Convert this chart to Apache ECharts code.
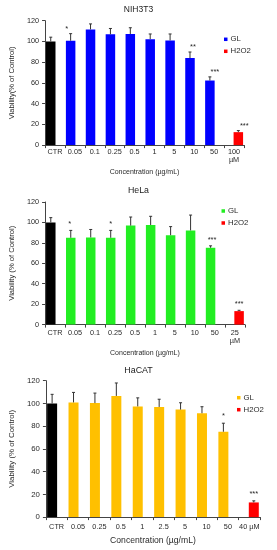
<!DOCTYPE html>
<html>
<head>
<meta charset="utf-8">
<script src="https://cdn.jsdelivr.net/npm/echarts@6/dist/echarts.min.js"></script>
<style>
html,body{margin:0;padding:0;background:#fff;width:277px;height:550px;overflow:hidden;}
.c{position:absolute;left:0;width:277px;}
</style>
</head>
<body>
<div id="c1" class="c" style="top:0;height:181px"></div>
<div id="c2" class="c" style="top:181px;height:181px"></div>
<div id="c3" class="c" style="top:362px;height:188px"></div>
<script>
// ---------- DATA ----------
const NIH_CATS = ['CTR','0.05','0.1','0.25','0.5','1','5','10','50','100\nµM'];
const NIH_GL = [100,100.7,111.6,106.9,107.2,102.2,101,83.9,62.3,null];
const NIH_GL_ERR = [4.1,6.8,5.3,5.6,6.0,5.0,6.2,5.9,3.5,null];
const NIH_H2O2 = [null,null,null,null,null,null,null,null,null,12.5];
const NIH_H2O2_ERR = [null,null,null,null,null,null,null,null,null,1.5];
const NIH_GL_SIG = ['','*','','','','','','**','***',''];
const NIH_H2O2_SIG = ['','','','','','','','','','***'];

const HELA_CATS = ['CTR','0.05','0.1','0.25','0.5','1','5','10','50','25\nµM'];
const HELA_GL = [100,85,85.3,85,96.9,97.5,87.5,92.2,75.2,null];
const HELA_GL_ERR = [4.7,7.2,7.8,7.2,8.4,8.5,8.4,15,1.9,null];
const HELA_H2O2 = [null,null,null,null,null,null,null,null,null,13.2];
const HELA_H2O2_ERR = [null,null,null,null,null,null,null,null,null,0.8];
const HELA_GL_SIG = ['','*','','*','','','','','***',''];
const HELA_H2O2_SIG = ['','','','','','','','','','***'];

const HACAT_CATS = ['CTR','0.05','0.25','0.5','1','2.5','5','10','50','40 µM'];
const HACAT_GL = [100,100.9,100.3,106.6,97.4,96.9,94.6,91.4,75.1,null];
const HACAT_GL_ERR = [8,8.8,8.8,11.4,7.5,6.8,6.0,5.7,7.5,null];
const HACAT_H2O2 = [null,null,null,null,null,null,null,null,null,12.9];
const HACAT_H2O2_ERR = [null,null,null,null,null,null,null,null,null,1.4];
const HACAT_GL_SIG = ['','','','','','','','','*',''];
const HACAT_H2O2_SIG = ['','','','','','','','','','***'];

const Y_MIN = 0, Y_MAX = 120, Y_STEP = 20;

// ---------- STYLE ----------
const FONT = "'Liberation Sans', Arial, sans-serif";
const TXT = '#2a2a2a';
const AX = '#444';

function build(el, d, s) {
  const chart = echarts.init(document.getElementById(el), null, {renderer:'canvas'});
  const barOff = s.barW * (1 + s.gap) / 2;
  function errData(vals, errs, sigs, side) {
    const out = [];
    vals.forEach((v, i) => {
      if (v === null) return;
      out.push([i, v, v + errs[i], side, sigs[i]]);
    });
    return out;
  }
  function errSeries(data, dx) {
    return {
      type: 'custom',
      silent: true,
      z: 5,
      data: data,
      encode: {x: 0, y: 1},
      renderItem: function (params, api) {
        const i = api.value(0);
        const v = api.value(1);
        const top = api.value(2);
        const side = api.value(3);
        const sig = data[params.dataIndex][4];
        const p0 = api.coord([i, v]);
        const p1 = api.coord([i, top]);
        const x = p0[0] + side * barOff;
        const kids = [
          {type:'line', shape:{x1:x, y1:p0[1], x2:x, y2:p1[1]}, style:{stroke:'#333', lineWidth:1}},
          {type:'line', shape:{x1:x-1.5, y1:p1[1], x2:x+1.5, y2:p1[1]}, style:{stroke:'#333', lineWidth:1}}
        ];
        if (sig) {
          kids.push({type:'text', style:{text:sig, x:x + (dx[i] || 0), y:p1[1] - s.starGap, align:'center', verticalAlign:'middle', fontSize:7.5, fontFamily:FONT, fill:TXT}});
        }
        return {type:'group', children:kids};
      }
    };
  }
  const glData = d.gl.map((v, i) => (i === 0 && v !== null) ? {value:v, itemStyle:{color:'#000'}} : v);
  const opt = {
    animation: false,
    textStyle: {fontFamily: FONT},
    title: {text: d.title, left: 'center', top: s.titleTop, padding:0, textStyle:{fontSize:s.titleSize, fontWeight:'normal', color:'#222', fontFamily:FONT}},
    legend: {
      orient:'vertical', left:s.legLeft, top:s.legTop, padding:0, itemWidth:3.5, itemHeight:3.5, itemGap:4,
      icon:'rect', textStyle:{fontSize:7.8, color:TXT, fontFamily:FONT, lineHeight:8, padding:[0,0,0,-2]},
      data:[{name:'GL', itemStyle:{color:s.glColor}}, {name:'H2O2', itemStyle:{color:'#ff0000'}}]
    },
    grid: {left:s.left, top:s.top, width:s.width, height:s.height, containLabel:false},
    xAxis: {
      type:'category', data:d.cats,
      axisLine:{lineStyle:{color:AX, width:1}},
      axisTick:{show:true, length:3, lineStyle:{color:AX}},
      axisLabel:{fontSize:7.3, color:TXT, margin:s.xLabMargin, lineHeight:8, interval:0, fontFamily:FONT},
      name:'Concentration (µg/mL)', nameLocation:'middle', nameGap:s.xNameGap,
      nameTextStyle:{fontSize:s.xNameSize, color:TXT, fontFamily:FONT}
    },
    yAxis: {
      type:'value', min:Y_MIN, max:Y_MAX, interval:Y_STEP,
      axisLine:{show:true, lineStyle:{color:AX, width:1}},
      axisTick:{show:true, length:3, lineStyle:{color:AX}},
      splitLine:{show:false},
      axisLabel:{fontSize:s.yLabSize, color:TXT, margin:6, fontFamily:FONT},
      name:d.yName, nameLocation:'middle', nameGap:s.yNameGap,
      nameTextStyle:{fontSize:s.yNameSize, color:TXT, fontFamily:FONT}
    },
    series: [
      {name:'GL', type:'bar', data:glData, barWidth:s.barW, barGap:(s.gap*100)+'%', itemStyle:{color:s.glColor}},
      {name:'H2O2', type:'bar', data:d.h2o2, barWidth:s.barW, itemStyle:{color:'#ff0000'}},
      errSeries(errData(d.gl, d.glErr, d.glSig, -1), s.glStarDx),
      errSeries(errData(d.h2o2, d.h2o2Err, d.h2o2Sig, 1), s.h2StarDx)
    ]
  };
  chart.setOption(opt);
}

build('c1', {
  title:'NIH3T3', yName:'Viability(% of Control)', cats:NIH_CATS,
  gl:NIH_GL, glErr:NIH_GL_ERR, glSig:NIH_GL_SIG,
  h2o2:NIH_H2O2, h2o2Err:NIH_H2O2_ERR, h2o2Sig:NIH_H2O2_SIG
}, {
  glColor:'#0000ff', left:33.3, top:20.7, width:210.7, height:128,
  titleTop:5, titleSize:8.5, legLeft:224, legTop:35.3,
  barW:9.5, gap:-0.1, starGap:5, glStarDx:[0,-4,0,0,0,0,0,3,5,0], h2StarDx:[0,0,0,0,0,0,0,0,0,6],
  xLabMargin:3, xNameGap:20, xNameSize:7, yLabSize:7.3, yNameGap:22.5, yNameSize:7.6
});

build('c2', {
  title:'HeLa', yName:'Viability (% of Control)', cats:HELA_CATS,
  gl:HELA_GL, glErr:HELA_GL_ERR, glSig:HELA_GL_SIG,
  h2o2:HELA_H2O2, h2o2Err:HELA_H2O2_ERR, h2o2Sig:HELA_H2O2_SIG
}, {
  glColor:'#22ee22', left:32.8, top:21, width:212, height:128.5,
  titleTop:5, titleSize:8.8, legLeft:221.5, legTop:26,
  barW:9.5, gap:-0.1, starGap:6, glStarDx:[0,-1,0,0,0,0,0,0,1.5,0], h2StarDx:[0,0,0,0,0,0,0,0,0,0],
  xLabMargin:4.5, xNameGap:19, xNameSize:7, yLabSize:7.3, yNameGap:22.5, yNameSize:7.6
});

build('c3', {
  title:'HaCAT', yName:'Viability (% of Control)', cats:HACAT_CATS,
  gl:HACAT_GL, glErr:HACAT_GL_ERR, glSig:HACAT_GL_SIG,
  h2o2:HACAT_H2O2, h2o2Err:HACAT_H2O2_ERR, h2o2Sig:HACAT_H2O2_SIG
}, {
  glColor:'#ffc000', left:36, top:18.7, width:224, height:141,
  titleTop:4, titleSize:8.9, legLeft:237, legTop:31.7,
  barW:10, gap:-0.1, starGap:7, glStarDx:[0,0,0,0,0,0,0,0,0,0], h2StarDx:[0,0,0,0,0,0,0,0,0,0],
  xLabMargin:6, xNameGap:15, xNameSize:8.6, yLabSize:7.8, yNameGap:19.5, yNameSize:7.9
});
</script>
</body>
</html>
